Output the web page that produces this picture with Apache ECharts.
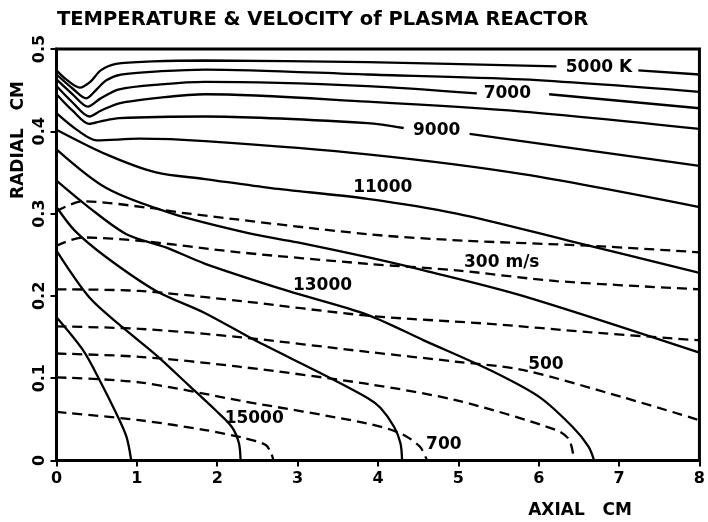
<!DOCTYPE html>
<html>
<head>
<meta charset="utf-8">
<script src="https://cdn.jsdelivr.net/npm/echarts@6/dist/echarts.min.js"></script>
<style>
html, body { margin: 0; padding: 0; background: #fff; }
#chart { width: 708px; height: 522px; }
</style>
</head>
<body>
<div id="chart"></div>
<script>
// temperature contours (K), [axial cm, radial cm]; null = gap for a label
var temp5000 = [[0,0.474],[0.12,0.463],[0.29,0.453],[0.42,0.460],[0.55,0.474],[0.74,0.482],[1.2,0.485],[1.85,0.486],[3.87,0.484],[6.22,0.479],null,[7.24,0.474],[8,0.469]];
var temp6000 = [[0,0.469],[0.2,0.452],[0.37,0.440],[0.5,0.451],[0.62,0.462],[0.8,0.469],[1.3,0.473],[1.85,0.475],[3.87,0.469],[5.8,0.463],[8,0.448]];
var temp7000 = [[0,0.463],[0.2,0.445],[0.39,0.430],[0.55,0.440],[0.78,0.451],[1.3,0.457],[1.85,0.460],[3.87,0.455],[5.23,0.446],null,[6.13,0.445],[8,0.428]];
var temp8000 = [[0,0.455],[0.2,0.435],[0.41,0.418],[0.55,0.425],[0.78,0.434],[1.3,0.441],[1.85,0.445],[3.87,0.436],[5.8,0.424],[8,0.403]];
var temp9000 = [[0,0.445],[0.2,0.425],[0.41,0.409],[0.55,0.412],[0.78,0.416],[1.85,0.418],[3.87,0.410],[4.32,0.404],null,[5.14,0.397],[8,0.358]];
var temp10000 = [[0,0.422],[0.25,0.402],[0.5,0.389],[1.03,0.391],[1.85,0.388],[3.87,0.372],[5.8,0.348],[8,0.308]];
var temp11000 = [[0,0.402],[0.62,0.372],[1.24,0.350],[1.85,0.342],[2.67,0.331],[3.87,0.318],[4.98,0.300],[6.38,0.267],[8,0.228]];
var temp12000 = [[0,0.378],[0.62,0.331],[1.44,0.300],[2.4,0.276],[3.0,0.265],[3.87,0.247],[4.57,0.231],[5.8,0.200],[8,0.131]];
var temp13000 = [[0,0.340],[0.41,0.307],[0.87,0.275],[1.36,0.259],[1.85,0.239],[2.88,0.206],[3.87,0.177],[4.57,0.146],[5.39,0.110],[6.01,0.077],[6.42,0.041],[6.62,0.017],[6.69,0]];
var temp14000 = [[0,0.308],[0.23,0.279],[0.62,0.247],[1.24,0.206],[1.85,0.179],[2.47,0.146],[3.29,0.106],[3.87,0.076],[4.03,0.064],[4.2,0.041],[4.28,0.021],[4.3,0]];
var temp15000 = [[0,0.255],[0.41,0.198],[0.82,0.162],[1.24,0.128],[1.65,0.091],[1.98,0.061],[2.18,0.041],[2.27,0.021],[2.29,0]];
var temp16000 = [[0,0.174],[0.33,0.134],[0.54,0.097],[0.74,0.058],[0.87,0.029],[0.93,0]];

// velocity contours (m/s)
var vel200 = [[0,0.303],[0.33,0.315],[1.15,0.307],[1.56,0.301],[3.87,0.275],[5.1,0.267],[6.62,0.261],[8,0.253]];
var vel300 = [[0,0.261],[0.33,0.271],[1.03,0.267],[2.27,0.253],[3.87,0.239],[4.98,0.231],[6.22,0.218],[8,0.208]];
var vel400 = [[0,0.208],[1.03,0.206],[2.27,0.194],[3.87,0.176],[5.39,0.166],[6.62,0.156],[8,0.146]];
var vel500 = [[0,0.163],[1.03,0.160],[2.27,0.150],[3.87,0.132],[4.98,0.120],[5.8,0.110],[7.04,0.077],[8,0.049]];
var vel600 = [[0,0.130],[1.03,0.126],[2.27,0.114],[3.87,0.093],[4.98,0.073],[6.22,0.037],[6.38,0.025],[6.44,0]];
var vel700 = [[0,0.101],[1.03,0.095],[2.27,0.073],[3.87,0.045],[4.28,0.033],[4.52,0.017],[4.61,0]];
var vel800 = [[0,0.059],[1.03,0.049],[1.85,0.037],[2.35,0.027],[2.6,0.019],[2.67,0.009],[2.7,0]];

var contourLabels = [[6.75,0.478,'5000 K'],[5.61,0.446,'7000'],[4.73,0.401,'9000'],[4.06,0.332,'11000'],[3.31,0.212,'13000'],[2.46,0.051,'15000'],[5.54,0.240,'300 m/s'],[6.09,0.116,'500'],[4.82,0.019,'700']];

var xTicks = [0, 8, 1];
var yTicks = [0, 0.5, 0.1];

var tempLines = [temp5000, temp6000, temp7000, temp8000, temp9000, temp10000, temp11000, temp12000, temp13000, temp14000, temp15000, temp16000];
var velLines = [vel200, vel300, vel400, vel500, vel600, vel700, vel800];

function segments(arr) {
    var out = [], cur = [];
    arr.forEach(function (p) {
        if (p === null) { out.push(cur); cur = []; }
        else cur.push(p);
    });
    out.push(cur);
    return out;
}

var series = [];
tempLines.forEach(function (line) {
    segments(line).forEach(function (seg) {
        series.push({
            type: 'line', data: seg, showSymbol: false, smooth: 0.3,
            lineStyle: { color: '#000', width: 2.3 }
        });
    });
});
velLines.forEach(function (line) {
    series.push({
        type: 'line', data: line, showSymbol: false, smooth: 0.3,
        lineStyle: { color: '#000', width: 2.3, type: [10, 6] }
    });
});
series.push({
    type: 'scatter', symbolSize: 0, z: 5,
    itemStyle: { opacity: 1 },
    data: contourLabels.map(function (l) { return { value: [l[0], l[1]], name: l[2] }; }),
    label: {
        show: true, position: 'inside', formatter: '{b}',
        color: '#000', textBorderWidth: 0,
        fontFamily: 'DejaVu Sans', fontWeight: 'bold', fontSize: 17
    }
});

var chart = echarts.init(document.getElementById('chart'));
chart.setOption({
    animation: false,
    backgroundColor: '#fff',
    title: {
        text: 'TEMPERATURE & VELOCITY of PLASMA REACTOR',
        left: 52, top: 5,
        textStyle: { color: '#000', fontFamily: 'DejaVu Sans', fontWeight: 'bold', fontSize: 19.5 }
    },
    grid: {
        left: 56.5, right: 5, top: 49, bottom: 61.5,
        show: true, borderColor: '#000', borderWidth: 3
    },
    xAxis: {
        type: 'value', min: xTicks[0], max: xTicks[1], interval: xTicks[2],
        axisLine: { lineStyle: { color: '#000', width: 3 } },
        axisTick: { length: 6, lineStyle: { color: '#000', width: 2 } },
        splitLine: { show: false },
        axisLabel: { color: '#000', fontFamily: 'DejaVu Sans', fontWeight: 'bold', fontSize: 16, margin: 10 }
    },
    yAxis: {
        type: 'value', min: yTicks[0], max: yTicks[1], interval: yTicks[2],
        axisLine: { lineStyle: { color: '#000', width: 3 } },
        axisTick: { length: 6, lineStyle: { color: '#000', width: 2 } },
        splitLine: { show: false },
        axisLabel: {
            color: '#000', fontFamily: 'DejaVu Sans', fontWeight: 'bold', fontSize: 16,
            rotate: 90, margin: 9,
            formatter: function (v) { return v === 0 ? '0' : v.toFixed(1); }
        }
    },
    graphic: [
        {
            type: 'text', x: 19, y: 140, rotation: Math.PI / 2,
            style: { text: 'RADIAL   CM', fill: '#000', font: 'bold 17px "DejaVu Sans"', align: 'center', verticalAlign: 'middle' }
        },
        {
            type: 'text', x: 580, y: 511,
            style: { text: 'AXIAL   CM', fill: '#000', font: 'bold 17px "DejaVu Sans"', align: 'center', verticalAlign: 'middle' }
        }
    ],
    series: series
});
</script>
</body>
</html>
